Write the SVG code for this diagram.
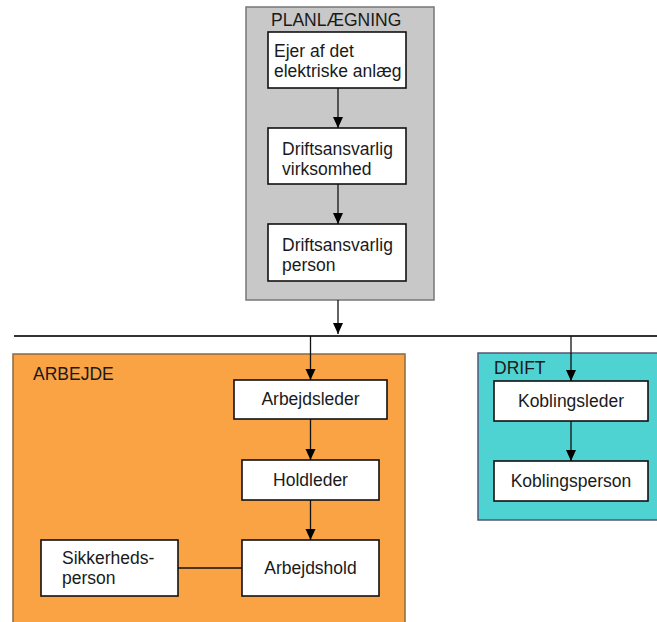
<svg xmlns="http://www.w3.org/2000/svg" width="657" height="622" viewBox="0 0 657 622">
<defs>
<marker id="arr" markerWidth="12" markerHeight="12" refX="11" refY="5" orient="auto" markerUnits="userSpaceOnUse">
<path d="M0,0 L11,5 L0,10 Z" fill="#000"/>
</marker>
<style>
.node{fill:#fff;stroke:#111;stroke-width:1.6}
.t{font-family:"Liberation Sans",Arial,sans-serif;font-size:17.5px;fill:#1a1a1a}
.c{stroke:#111;stroke-width:1.3;fill:none}
</style>
</defs>
<rect width="657" height="622" fill="#fff"/>
<g id="planlaegning">
<rect x="246" y="7" width="188" height="293" fill="#c8c8c8" stroke="#777" stroke-width="1.5"/>
<text class="t" x="271" y="26">PLANLÆGNING</text>
</g>
<g id="arbejde">
<rect x="13" y="354" width="392" height="272" fill="#f9a345" stroke="#8a6a40" stroke-width="1.5"/>
<text class="t" x="33" y="380">ARBEJDE</text>
</g>
<g id="drift">
<rect x="478" y="353" width="182" height="167" fill="#4fd2d2" stroke="#557" stroke-width="1.5"/>
<text class="t" x="494" y="374">DRIFT</text>
</g>
<g id="ejer">
<rect class="node" x="268" y="32" width="138" height="56"/>
<text class="t" x="274" y="57">Ejer af det</text>
<text class="t" x="274" y="77">elektriske anlæg</text>
</g>
<g id="driftsansvarlig-virksomhed">
<rect class="node" x="268" y="128" width="138" height="56"/>
<text class="t" x="282" y="155">Driftsansvarlig</text>
<text class="t" x="282" y="175">virksomhed</text>
</g>
<g id="driftsansvarlig-person">
<rect class="node" x="268" y="224" width="138" height="57"/>
<text class="t" x="282" y="251">Driftsansvarlig</text>
<text class="t" x="282" y="271">person</text>
</g>
<g id="arbejdsleder">
<rect class="node" x="234" y="380" width="153" height="39"/>
<text class="t" x="310.5" y="405" text-anchor="middle">Arbejdsleder</text>
</g>
<g id="holdleder">
<rect class="node" x="242" y="460" width="137" height="40"/>
<text class="t" x="310.5" y="486" text-anchor="middle">Holdleder</text>
</g>
<g id="arbejdshold">
<rect class="node" x="242" y="540" width="137" height="56"/>
<text class="t" x="310.5" y="574" text-anchor="middle">Arbejdshold</text>
</g>
<g id="sikkerhedsperson">
<rect class="node" x="41" y="540" width="137" height="56"/>
<text class="t" x="62" y="564">Sikkerheds-</text>
<text class="t" x="62" y="584">person</text>
</g>
<g id="koblingsleder">
<rect class="node" x="494" y="381" width="154" height="40"/>
<text class="t" x="571" y="407" text-anchor="middle">Koblingsleder</text>
</g>
<g id="koblingsperson">
<rect class="node" x="494" y="461" width="154" height="40"/>
<text class="t" x="571" y="487" text-anchor="middle">Koblingsperson</text>
</g>
<g id="connectors">
<line class="c" x1="338" y1="88" x2="338" y2="128" marker-end="url(#arr)"/>
<line class="c" x1="338" y1="184" x2="338" y2="224" marker-end="url(#arr)"/>
<line class="c" x1="338" y1="300" x2="338" y2="334" marker-end="url(#arr)"/>
<line x1="14" y1="336" x2="657" y2="336" stroke="#333" stroke-width="2"/>
<line class="c" x1="310.5" y1="336" x2="310.5" y2="380" marker-end="url(#arr)"/>
<line class="c" x1="310.5" y1="419" x2="310.5" y2="460" marker-end="url(#arr)"/>
<line class="c" x1="310.5" y1="500" x2="310.5" y2="540" marker-end="url(#arr)"/>
<line class="c" x1="178" y1="568" x2="242" y2="568"/>
<line class="c" x1="571" y1="336" x2="571" y2="381" marker-end="url(#arr)"/>
<line class="c" x1="571" y1="421" x2="571" y2="461" marker-end="url(#arr)"/>
</g>
</svg>
